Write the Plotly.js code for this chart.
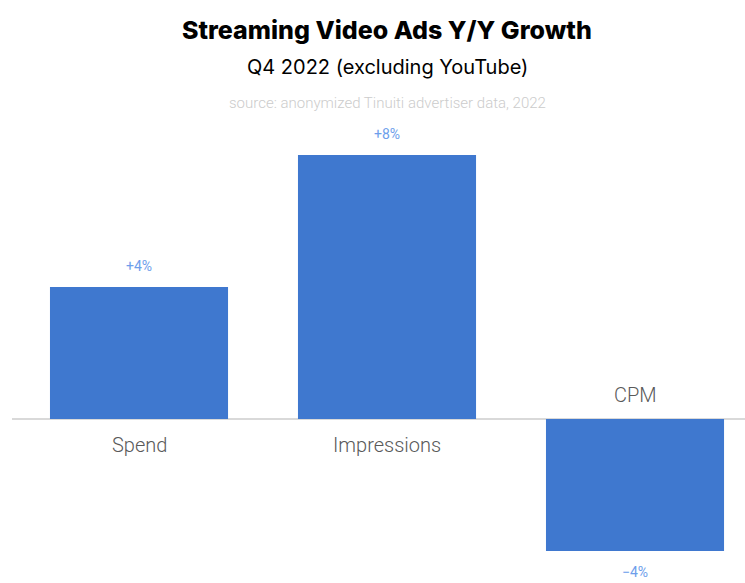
<!DOCTYPE html>
<html>
<head>
<meta charset="utf-8">
<script src="https://cdn.plot.ly/plotly-3.0.1.min.js"></script>
<style>html,body{margin:0;padding:0;background:#fff;}#chart{width:745px;height:583px;}</style>
</head>
<body>
<div id="chart"></div>
<script>
const categories = ["Spend", "Impressions", "CPM"];
const growth = [4, 8, -4];
const valueLabels = ["+4%", "+8%", "\u22124%"];
const titleText = "Streaming Video Ads Y/Y Growth";
const subtitleText = "Q4 2022 (excluding YouTube)";
const sourceText = "source: anonymized Tinuiti advertiser data, 2022";

const barColor = "#3f78cf";
const labelColor = "#6d9eeb";

const trace = {
  type: "bar",
  x: categories,
  y: growth,
  marker: {color: barColor},
  hoverinfo: "skip"
};

const annotations = [];
categories.forEach((c, i) => {
  const pos = growth[i] >= 0;
  annotations.push({
    x: c, y: growth[i], xref: "x", yref: "y",
    text: valueLabels[i], showarrow: false,
    yshift: pos ? 21 : -21,
    font: {family: "Roboto", size: 14, color: labelColor}
  });
  annotations.push({
    x: c, y: 0, xref: "x", yref: "y",
    text: c, showarrow: false,
    yshift: pos ? -26 : 24,
    font: {family: "Roboto", size: 20, color: "#595959", weight: 300}
  });
});
annotations.push({
  x: 1, y: 1, xref: "x", yref: "paper", yanchor: "middle",
  text: titleText, showarrow: false, yshift: 92,
  font: {family: "Inter", size: 25, color: "#000", weight: 800}
});
annotations.push({
  x: 1, y: 1, xref: "x", yref: "paper", yanchor: "middle",
  text: subtitleText, showarrow: false, yshift: 55,
  font: {family: "Inter", size: 20, color: "#000", weight: 400}
});
annotations.push({
  x: 1, y: 1, xref: "x", yref: "paper", yanchor: "middle",
  text: sourceText, showarrow: false, yshift: 19,
  font: {family: "Roboto", size: 15, color: "#cccccc", weight: 300}
});

const layout = {
  width: 745, height: 583,
  margin: {l: 12, r: 0, t: 122, b: 6},
  paper_bgcolor: "#fff", plot_bgcolor: "#fff",
  bargap: 0.282,
  showlegend: false,
  xaxis: {
    range: [-0.5121, 2.4435],
    showticklabels: false, showgrid: false, zeroline: false, showline: false, ticks: ""
  },
  yaxis: {
    range: [-4.788, 9],
    showticklabels: false, showgrid: false, showline: false, ticks: "",
    zeroline: true, zerolinecolor: "#d9d9d9", zerolinewidth: 2
  },
  annotations: annotations
};

Plotly.newPlot("chart", [trace], layout, {displayModeBar: false, staticPlot: true});
</script>
</body>
</html>
